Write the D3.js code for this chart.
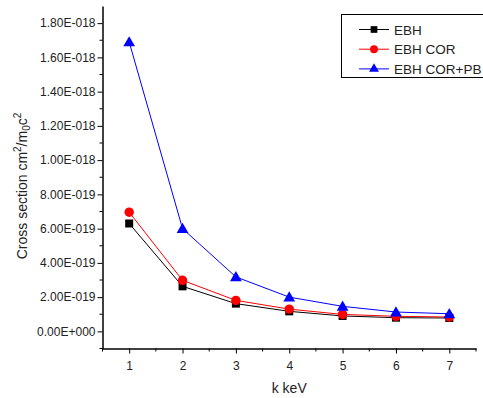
<!DOCTYPE html>
<html><head><meta charset="utf-8">
<script src="https://cdn.jsdelivr.net/npm/d3@7"></script>
<style>body{margin:0;background:#fff}svg{display:block}text{font-family:"Liberation Sans",Arial,sans-serif;fill:#222}</style>
</head><body>
<script>
const kValues = [1,2,3,4,5,6,7];
const ebh = [6.3e-19, 2.63e-19, 1.62e-19, 1.17e-19, 0.90e-19, 0.80e-19, 0.78e-19];
const ebhCor = [6.96e-19, 2.98e-19, 1.81e-19, 1.30e-19, 0.99e-19, 0.88e-19, 0.84e-19];
const ebhCorPb = [1.69e-18, 6.0e-19, 3.18e-19, 2.0e-19, 1.46e-19, 1.13e-19, 1.03e-19];
const seriesNames = ["EBH","EBH COR","EBH COR+PB"];
const yTickValues = [0,2e-19,4e-19,6e-19,8e-19,1e-18,1.2e-18,1.4e-18,1.6e-18,1.8e-18];
const yTickLabels = ["0.00E+000","2.00E-019","4.00E-019","6.00E-019","8.00E-019","1.00E-018","1.20E-018","1.40E-018","1.60E-018","1.80E-018"];
const xTickLabels = ["1","2","3","4","5","6","7"];
const xLabel = "k keV";

const W=483,H=398;
const svg=d3.select("body").append("svg").attr("width",W).attr("height",H);
const x=d3.scaleLinear().domain([0.5,7.5]).range([102.5,476]);
const y=d3.scaleLinear().domain([-1e-19,1.9e-18]).range([348.5,6]);

// axes
const yAxis=d3.axisLeft(y).tickValues(yTickValues).tickFormat((d,i)=>yTickLabels[i]).tickSize(5).tickSizeOuter(0);
const gy=svg.append("g").attr("transform","translate(102.5,0)").call(yAxis);
const yMinor=d3.range(-1e-19,1.9e-18,2e-19);
svg.append("g").selectAll("line").data(yMinor).join("line")
 .attr("x1",102.5).attr("x2",99.5).attr("y1",d=>y(d)).attr("y2",d=>y(d)).attr("stroke","#000");
const xAxis=d3.axisBottom(x).tickValues(kValues).tickFormat((d,i)=>xTickLabels[i]).tickSize(5).tickSizeOuter(0);
const gx=svg.append("g").attr("transform","translate(0,348.5)").call(xAxis);
svg.append("g").selectAll("line").data(d3.range(0.5,7.6,1)).join("line")
 .attr("x1",d=>x(d)).attr("x2",d=>x(d)).attr("y1",348.5).attr("y2",351.5).attr("stroke","#000");
[gx,gy].forEach(g=>{g.select(".domain").attr("stroke","#000").attr("stroke-width",1.5);
 g.selectAll(".tick line").attr("stroke","#000");
 g.selectAll(".tick text").attr("font-size",12).attr("fill","#222").attr("font-family","Liberation Sans, Arial, sans-serif");});
gx.selectAll(".tick text").attr("dy","1.1em");
gy.selectAll(".tick text").attr("x",-7);

// titles
svg.append("text").attr("x",x(4)).attr("y",393).attr("text-anchor","middle").attr("font-size",14).text(xLabel);
const yt=svg.append("text").attr("transform","translate(27,186) rotate(-90)").attr("text-anchor","middle").attr("font-size",14);
yt.append("tspan").text("Cross section cm");
yt.append("tspan").attr("dy",-6).attr("font-size",10).text("2");
yt.append("tspan").attr("dy",6).text("/m");
yt.append("tspan").attr("dy",3).attr("font-size",10).text("0");
yt.append("tspan").attr("dy",-3).text("c");
yt.append("tspan").attr("dy",-6).attr("font-size",10).text("2");

const series=[{name:seriesNames[0],vals:ebh,color:"#000",sym:d3.symbolSquare,size:64},
 {name:seriesNames[1],vals:ebhCor,color:"#f00",sym:d3.symbolCircle,size:70},
 {name:seriesNames[2],vals:ebhCorPb,color:"#00f",sym:d3.symbolTriangle,size:60}];
const line=d3.line().x((d,i)=>x(kValues[i])).y(d=>y(d));
series.forEach(s=>{
 svg.append("path").datum(s.vals).attr("d",line).attr("fill","none").attr("stroke",s.color).attr("stroke-width",1);
 svg.append("g").selectAll("path").data(s.vals).join("path")
  .attr("d",d3.symbol().type(s.sym).size(s.size))
  .attr("transform",(d,i)=>`translate(${x(kValues[i])},${y(d)+(s.sym===d3.symbolTriangle?1:0)})`)
  .attr("fill",s.color);
});

// legend
svg.append("rect").attr("x",341.5).attr("y",14.5).attr("width",150).attr("height",63).attr("fill","#fff").attr("stroke","#000");
series.forEach((s,i)=>{
 const yy=29.5+i*19.7;
 svg.append("line").attr("x1",359).attr("x2",389).attr("y1",yy).attr("y2",yy).attr("stroke",s.color).attr("stroke-width",1);
 svg.append("path").attr("d",d3.symbol().type(s.sym).size(s.size*0.7)).attr("transform",`translate(374,${yy})`).attr("fill",s.color);
 svg.append("text").attr("x",394).attr("y",yy+5).attr("font-size",13.5).text(s.name);
});
</script>
</body></html>
